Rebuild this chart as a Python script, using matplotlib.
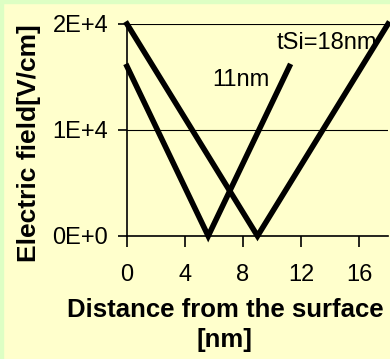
import matplotlib
matplotlib.use("Agg")
import matplotlib.pyplot as plt
from matplotlib.patches import Rectangle

plt.rcParams['font.family'] = ['Liberation Sans', 'DejaVu Sans']

# data
x_18 = [0, 9, 18]
e_18 = [20000, 0, 20000]
x_11 = [0, 5.6, 11.2]
e_11 = [16000, 0, 16000]
xticks = [0, 4, 8, 12, 16]
yticks = [0, 10000, 20000]
ytick_labels = ["0E+0", "1E+4", "2E+4"]

bg = '#FFFFCC'
fig = plt.figure(figsize=(3.9, 3.59), dpi=100, facecolor=bg)
# light green strip at left and top edges
fig.patches.append(Rectangle((0, 0), 3 / 390, 1, transform=fig.transFigure,
                             color='#DDFFC4', zorder=0))
fig.patches.append(Rectangle((0, 1 - 3 / 359), 1, 3 / 359, transform=fig.transFigure,
                             color='#DDFFC4', zorder=0))

ax = fig.add_axes([127 / 390, 1 - 236 / 359, 261 / 390, 212 / 359])
ax.set_facecolor(bg)

ax.plot(x_18, e_18, color='black', lw=4, solid_joinstyle='miter', clip_on=False, zorder=3)
ax.plot(x_11, e_11, color='black', lw=4, solid_joinstyle='miter', clip_on=False, zorder=3)

ax.set_xlim(0, 18)
ax.set_ylim(0, 20000)
ax.set_xticks(xticks)
ax.set_yticks(yticks)
ax.set_yticklabels(ytick_labels)
for t in ax.get_xticklabels() + ax.get_yticklabels():
    t.set_fontsize(17)

ax.yaxis.grid(True, color='black', lw=0.8)
ax.set_axisbelow(True)
for s in ['top', 'right']:
    ax.spines[s].set_visible(False)
ax.spines['left'].set_linewidth(1.2)
ax.spines['bottom'].set_linewidth(1.2)
ax.tick_params(axis='x', direction='out', length=8, width=1.2, pad=12)
ax.tick_params(axis='y', direction='out', length=6.5, width=1.2, pad=7)

ax.text(10.35, 18200, "tSi=18nm", fontsize=17, va='center', ha='left')
ax.text(5.85, 14700, "11nm", fontsize=17, va='center', ha='left')

ax.set_xlabel("Distance from the surface\n[nm]", fontsize=18.5, fontweight='bold',
              linespacing=1.3)
ax.xaxis.set_label_coords(0.375, -0.292)
ax.set_ylabel("Electric field[V/cm]", fontsize=19, fontweight='bold')
ax.yaxis.set_label_coords(-0.33, 0.44)

fig.savefig("out.png", dpi=100, facecolor=bg)
